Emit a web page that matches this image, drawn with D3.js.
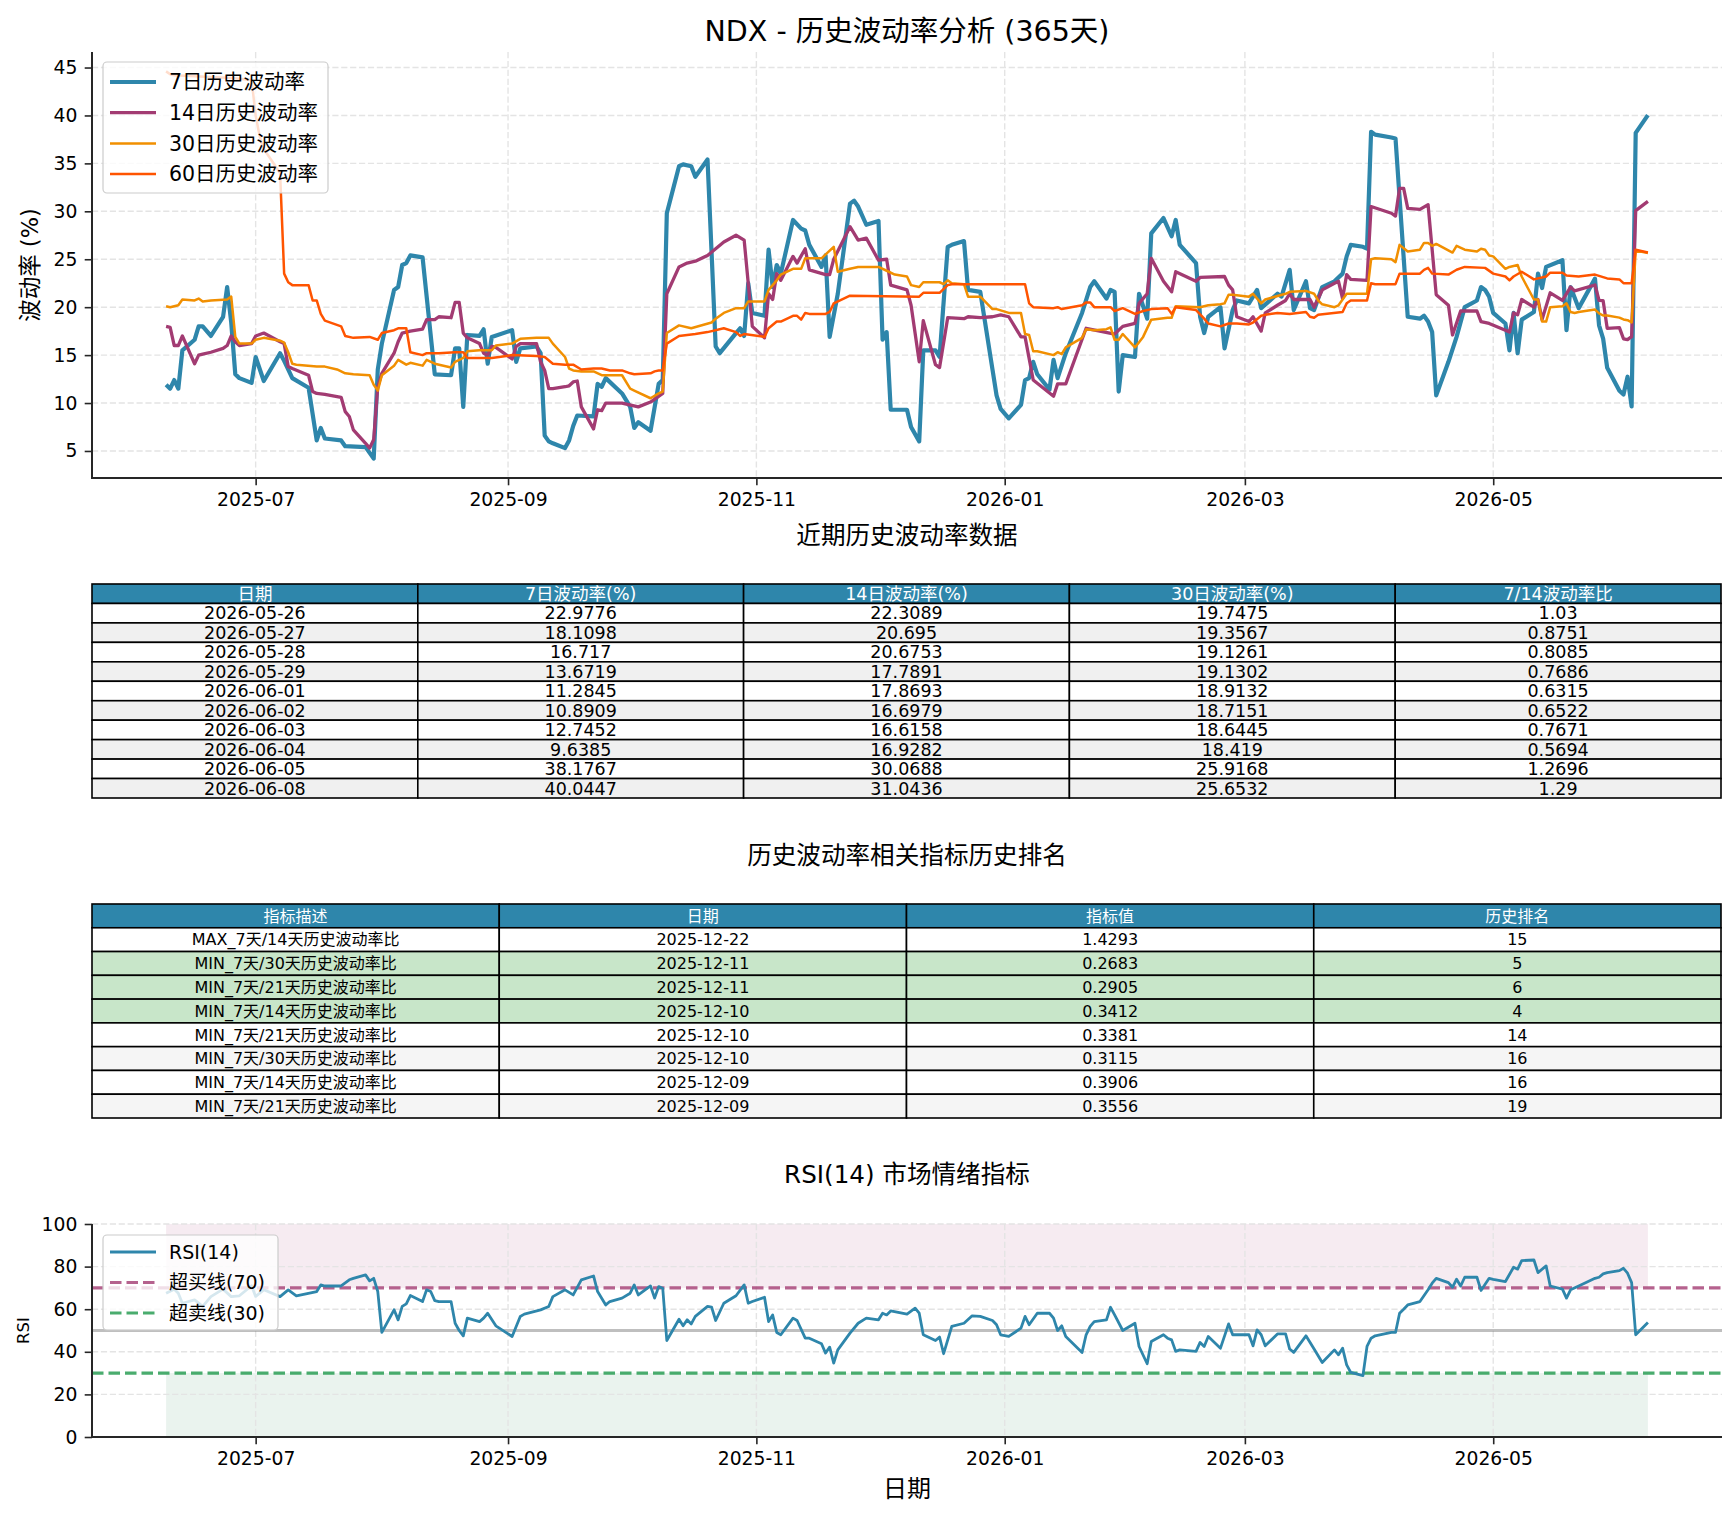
<!DOCTYPE html>
<html>
<head>
<meta charset="utf-8">
<script src="https://cdn.jsdelivr.net/npm/d3@7"></script>
<style>
  body { margin: 0; background: #fff; }
  text { font-family: "DejaVu Sans", "Noto Sans CJK SC", sans-serif; }
</style>
</head>
<body>
<svg id="chart"></svg>
<script>
// ---------------------------------------------------------------
// Data
// ---------------------------------------------------------------
var vol7 = [
  ['2025-06-09', 11.9], ['2025-06-10', 11.5], ['2025-06-11', 12.4], ['2025-06-12', 11.5], ['2025-06-13', 15.5],
  ['2025-06-16', 16.6], ['2025-06-17', 18.0], ['2025-06-18', 18.0], ['2025-06-20', 17.0], ['2025-06-23', 19.0],
  ['2025-06-24', 22.1], ['2025-06-25', 18.4], ['2025-06-26', 13.0], ['2025-06-27', 12.6], ['2025-06-30', 12.1],
  ['2025-07-01', 14.8], ['2025-07-03', 12.3], ['2025-07-07', 15.2], ['2025-07-08', 14.4], ['2025-07-10', 12.6],
  ['2025-07-14', 11.6], ['2025-07-16', 6.1], ['2025-07-17', 7.4], ['2025-07-18', 6.3], ['2025-07-22', 6.1],
  ['2025-07-23', 5.5], ['2025-07-28', 5.4], ['2025-07-29', 4.8], ['2025-07-30', 4.2], ['2025-07-31', 13.5],
  ['2025-08-01', 16.2], ['2025-08-04', 21.8], ['2025-08-05', 22.1], ['2025-08-06', 24.4], ['2025-08-07', 24.6],
  ['2025-08-08', 25.4], ['2025-08-11', 25.2], ['2025-08-14', 13.0], ['2025-08-18', 12.9], ['2025-08-19', 15.7],
  ['2025-08-20', 15.7], ['2025-08-21', 9.6], ['2025-08-22', 17.1], ['2025-08-25', 17.0], ['2025-08-26', 17.7],
  ['2025-08-27', 14.1], ['2025-08-28', 16.9], ['2025-09-02', 17.6], ['2025-09-03', 14.3], ['2025-09-04', 15.7],
  ['2025-09-08', 15.9], ['2025-09-09', 15.2], ['2025-09-10', 6.6], ['2025-09-11', 6.0], ['2025-09-12', 5.8],
  ['2025-09-15', 5.3], ['2025-09-16', 6.1], ['2025-09-17', 7.6], ['2025-09-18', 8.7], ['2025-09-22', 8.6],
  ['2025-09-23', 12.0], ['2025-09-24', 11.7], ['2025-09-25', 12.6], ['2025-09-29', 11.0], ['2025-10-01', 9.6],
  ['2025-10-02', 7.4], ['2025-10-03', 8.0], ['2025-10-06', 7.1], ['2025-10-08', 12.0], ['2025-10-09', 12.4],
  ['2025-10-10', 29.8], ['2025-10-13', 34.7], ['2025-10-14', 34.9], ['2025-10-16', 34.7], ['2025-10-17', 33.6],
  ['2025-10-20', 35.4], ['2025-10-22', 15.9], ['2025-10-23', 15.2], ['2025-10-27', 17.3], ['2025-10-28', 17.8],
  ['2025-10-29', 17.0], ['2025-10-30', 22.5], ['2025-10-31', 19.4], ['2025-11-03', 19.1], ['2025-11-04', 26.0],
  ['2025-11-05', 22.1], ['2025-11-06', 24.4], ['2025-11-07', 23.5], ['2025-11-10', 29.1], ['2025-11-12', 28.2],
  ['2025-11-13', 28.0], ['2025-11-14', 26.5], ['2025-11-17', 24.2], ['2025-11-18', 25.4], ['2025-11-19', 16.9],
  ['2025-11-21', 21.4], ['2025-11-24', 30.8], ['2025-11-25', 31.1], ['2025-11-26', 30.5], ['2025-11-28', 28.6],
  ['2025-12-01', 29.0], ['2025-12-02', 16.6], ['2025-12-03', 17.4], ['2025-12-04', 9.3], ['2025-12-08', 9.3],
  ['2025-12-09', 7.5], ['2025-12-11', 6.0], ['2025-12-12', 15.5], ['2025-12-15', 15.5], ['2025-12-16', 14.8],
  ['2025-12-18', 26.3], ['2025-12-19', 26.5], ['2025-12-22', 26.9], ['2025-12-23', 21.8], ['2025-12-26', 21.6],
  ['2025-12-29', 13.5], ['2025-12-30', 10.8], ['2025-12-31', 9.4], ['2026-01-02', 8.4], ['2026-01-05', 9.8],
  ['2026-01-06', 12.4], ['2026-01-07', 12.6], ['2026-01-08', 14.3], ['2026-01-09', 13.0], ['2026-01-12', 11.4],
  ['2026-01-13', 14.5], ['2026-01-14', 12.6], ['2026-01-16', 15.2], ['2026-01-20', 19.4], ['2026-01-22', 22.1],
  ['2026-01-23', 22.7], ['2026-01-26', 20.9], ['2026-01-27', 21.8], ['2026-01-28', 21.6], ['2026-01-29', 11.2],
  ['2026-01-30', 15.0], ['2026-02-02', 14.8], ['2026-02-03', 21.4], ['2026-02-05', 18.8], ['2026-02-06', 27.7],
  ['2026-02-09', 29.3], ['2026-02-11', 27.4], ['2026-02-12', 29.1], ['2026-02-13', 26.5], ['2026-02-17', 24.6],
  ['2026-02-18', 19.0], ['2026-02-19', 17.3], ['2026-02-20', 19.0], ['2026-02-23', 20.0], ['2026-02-24', 15.7],
  ['2026-02-26', 19.7], ['2026-02-27', 20.7], ['2026-03-02', 20.4], ['2026-03-04', 21.8], ['2026-03-05', 19.9],
  ['2026-03-09', 21.4], ['2026-03-10', 21.1], ['2026-03-12', 23.9], ['2026-03-13', 19.7], ['2026-03-16', 22.7],
  ['2026-03-17', 19.9], ['2026-03-18', 19.7], ['2026-03-20', 22.1], ['2026-03-23', 22.7], ['2026-03-25', 23.5],
  ['2026-03-26', 25.3], ['2026-03-27', 26.5], ['2026-03-30', 26.3], ['2026-03-31', 26.1], ['2026-04-01', 38.3],
  ['2026-04-02', 38.0], ['2026-04-06', 37.7], ['2026-04-07', 37.6], ['2026-04-10', 19.0], ['2026-04-13', 18.8],
  ['2026-04-14', 19.1], ['2026-04-15', 18.5], ['2026-04-16', 17.4], ['2026-04-17', 10.8], ['2026-04-20', 14.3],
  ['2026-04-22', 16.9], ['2026-04-24', 20.0], ['2026-04-27', 20.7], ['2026-04-28', 22.1], ['2026-04-29', 21.8],
  ['2026-04-30', 21.1], ['2026-05-01', 19.4], ['2026-05-04', 18.3], ['2026-05-05', 15.5], ['2026-05-06', 19.4],
  ['2026-05-07', 15.2], ['2026-05-08', 18.7], ['2026-05-11', 19.5], ['2026-05-12', 23.5], ['2026-05-13', 22.0],
  ['2026-05-14', 24.2], ['2026-05-18', 24.9], ['2026-05-19', 17.6], ['2026-05-20', 22.1], ['2026-05-22', 19.9],
  ['2026-05-26', 22.98], ['2026-05-27', 18.11], ['2026-05-28', 16.72], ['2026-05-29', 13.67], ['2026-06-01', 11.28],
  ['2026-06-02', 10.89], ['2026-06-03', 12.75], ['2026-06-04', 9.64], ['2026-06-05', 38.18], ['2026-06-08', 40.04]
]

var vol14 = [
  ['2025-06-09', 18.0], ['2025-06-10', 17.9], ['2025-06-11', 16.0], ['2025-06-12', 16.0], ['2025-06-13', 17.0],
  ['2025-06-16', 14.1], ['2025-06-17', 15.0], ['2025-06-18', 15.1], ['2025-06-20', 15.3], ['2025-06-23', 15.7],
  ['2025-06-24', 16.0], ['2025-06-25', 17.0], ['2025-06-26', 16.4], ['2025-06-27', 16.0], ['2025-06-30', 16.2],
  ['2025-07-01', 17.0], ['2025-07-03', 17.3], ['2025-07-07', 16.4], ['2025-07-08', 16.2], ['2025-07-09', 13.8],
  ['2025-07-10', 13.6], ['2025-07-14', 12.9], ['2025-07-15', 11.2], ['2025-07-16', 11.0], ['2025-07-18', 10.9],
  ['2025-07-22', 10.6], ['2025-07-23', 9.1], ['2025-07-24', 8.6], ['2025-07-25', 7.2], ['2025-07-28', 5.8],
  ['2025-07-29', 5.3], ['2025-07-30', 6.2], ['2025-07-31', 11.7], ['2025-08-01', 13.1], ['2025-08-04', 15.2],
  ['2025-08-05', 16.4], ['2025-08-06', 17.3], ['2025-08-07', 17.4], ['2025-08-08', 17.5], ['2025-08-11', 17.7],
  ['2025-08-12', 18.7], ['2025-08-14', 18.7], ['2025-08-15', 19.0], ['2025-08-18', 18.9], ['2025-08-19', 20.5],
  ['2025-08-20', 20.5], ['2025-08-21', 17.3], ['2025-08-22', 16.8], ['2025-08-25', 16.2], ['2025-08-26', 15.2],
  ['2025-08-27', 15.0], ['2025-08-28', 15.9], ['2025-08-29', 15.8], ['2025-09-02', 14.6], ['2025-09-03', 15.9],
  ['2025-09-04', 16.2], ['2025-09-08', 16.2], ['2025-09-09', 14.3], ['2025-09-10', 13.4], ['2025-09-11', 11.5],
  ['2025-09-12', 11.5], ['2025-09-15', 11.7], ['2025-09-16', 11.8], ['2025-09-17', 12.2], ['2025-09-18', 12.3],
  ['2025-09-19', 9.6], ['2025-09-22', 7.3], ['2025-09-23', 9.3], ['2025-09-24', 9.2], ['2025-09-25', 10.0],
  ['2025-09-29', 10.0], ['2025-10-03', 9.6], ['2025-10-06', 10.1], ['2025-10-09', 11.0], ['2025-10-10', 21.4],
  ['2025-10-13', 24.2], ['2025-10-15', 24.6], ['2025-10-17', 24.8], ['2025-10-20', 25.4], ['2025-10-22', 26.1],
  ['2025-10-24', 26.8], ['2025-10-27', 27.5], ['2025-10-29', 27.0], ['2025-10-31', 18.0], ['2025-11-03', 16.8],
  ['2025-11-04', 21.4], ['2025-11-05', 20.8], ['2025-11-06', 23.5], ['2025-11-07', 22.8], ['2025-11-10', 25.3],
  ['2025-11-11', 24.6], ['2025-11-13', 26.1], ['2025-11-14', 23.9], ['2025-11-18', 23.4], ['2025-11-19', 23.4],
  ['2025-11-20', 25.0], ['2025-11-24', 28.4], ['2025-11-26', 27.0], ['2025-11-28', 27.2], ['2025-12-01', 24.9],
  ['2025-12-03', 25.0], ['2025-12-04', 22.3], ['2025-12-08', 21.8], ['2025-12-09', 20.2], ['2025-12-11', 14.3],
  ['2025-12-12', 18.6], ['2025-12-15', 14.0], ['2025-12-16', 13.7], ['2025-12-18', 18.9], ['2025-12-22', 18.8],
  ['2025-12-23', 19.0], ['2025-12-26', 18.9], ['2025-12-29', 19.0], ['2025-12-31', 19.2], ['2026-01-02', 19.0],
  ['2026-01-05', 16.9], ['2026-01-06', 16.9], ['2026-01-08', 12.4], ['2026-01-13', 10.7], ['2026-01-14', 12.0],
  ['2026-01-16', 12.0], ['2026-01-21', 17.8], ['2026-01-28', 17.2], ['2026-01-30', 18.0], ['2026-02-02', 18.3],
  ['2026-02-03', 20.4], ['2026-02-05', 21.4], ['2026-02-06', 25.1], ['2026-02-09', 22.7], ['2026-02-11', 21.6],
  ['2026-02-12', 23.7], ['2026-02-17', 22.7], ['2026-02-18', 23.1], ['2026-02-24', 23.2], ['2026-02-25', 22.3],
  ['2026-02-26', 21.8], ['2026-02-27', 19.0], ['2026-03-02', 18.5], ['2026-03-03', 19.0], ['2026-03-05', 17.5],
  ['2026-03-06', 19.4], ['2026-03-09', 20.2], ['2026-03-11', 20.7], ['2026-03-12', 21.4], ['2026-03-13', 20.8],
  ['2026-03-17', 20.8], ['2026-03-18', 20.0], ['2026-03-20', 21.8], ['2026-03-23', 22.5], ['2026-03-24', 22.7],
  ['2026-03-25', 20.9], ['2026-03-26', 23.4], ['2026-03-27', 22.9], ['2026-03-31', 22.8], ['2026-04-01', 30.5],
  ['2026-04-06', 29.8], ['2026-04-07', 29.5], ['2026-04-08', 32.4], ['2026-04-09', 32.4], ['2026-04-10', 30.3],
  ['2026-04-13', 30.2], ['2026-04-15', 30.7], ['2026-04-17', 21.3], ['2026-04-20', 20.2], ['2026-04-21', 17.1],
  ['2026-04-23', 19.6], ['2026-04-27', 19.6], ['2026-04-28', 18.5], ['2026-04-30', 18.3], ['2026-05-04', 17.6],
  ['2026-05-05', 17.4], ['2026-05-06', 19.4], ['2026-05-07', 19.2], ['2026-05-08', 20.8], ['2026-05-11', 20.0],
  ['2026-05-12', 20.8], ['2026-05-13', 18.7], ['2026-05-15', 21.5], ['2026-05-18', 20.7], ['2026-05-20', 22.1],
  ['2026-05-21', 21.7], ['2026-05-26', 22.31], ['2026-05-27', 20.70], ['2026-05-28', 20.68], ['2026-05-29', 17.79],
  ['2026-06-01', 17.87], ['2026-06-02', 16.70], ['2026-06-03', 16.62], ['2026-06-04', 16.93], ['2026-06-05', 30.07],
  ['2026-06-08', 31.04]
]

var vol30 = [
  ['2025-06-09', 20.1], ['2025-06-10', 20.0], ['2025-06-12', 20.2], ['2025-06-13', 20.8], ['2025-06-16', 20.7],
  ['2025-06-17', 20.9], ['2025-06-18', 20.6], ['2025-06-20', 20.7], ['2025-06-24', 20.8], ['2025-06-25', 21.1],
  ['2025-06-26', 16.9], ['2025-06-27', 16.2], ['2025-06-30', 16.2], ['2025-07-01', 16.6], ['2025-07-03', 16.8],
  ['2025-07-07', 16.5], ['2025-07-08', 16.3], ['2025-07-09', 15.3], ['2025-07-10', 14.1], ['2025-07-11', 14.0],
  ['2025-07-16', 13.8], ['2025-07-18', 13.8], ['2025-07-21', 13.5], ['2025-07-23', 13.1], ['2025-07-25', 13.0],
  ['2025-07-29', 12.9], ['2025-07-30', 11.9], ['2025-07-31', 11.3], ['2025-08-01', 12.9], ['2025-08-04', 13.9],
  ['2025-08-05', 14.5], ['2025-08-07', 14.0], ['2025-08-08', 14.2], ['2025-08-11', 13.9], ['2025-08-12', 14.5],
  ['2025-08-14', 14.1], ['2025-08-18', 13.7], ['2025-08-19', 14.3], ['2025-08-21', 14.7], ['2025-08-22', 15.4],
  ['2025-08-25', 15.5], ['2025-08-28', 15.5], ['2025-08-29', 16.0], ['2025-09-02', 16.2], ['2025-09-04', 16.7],
  ['2025-09-08', 16.8], ['2025-09-11', 16.8], ['2025-09-12', 16.2], ['2025-09-15', 14.8], ['2025-09-16', 13.6],
  ['2025-09-17', 13.4], ['2025-09-19', 13.3], ['2025-09-22', 13.3], ['2025-09-24', 12.9], ['2025-09-29', 12.9],
  ['2025-10-01', 11.5], ['2025-10-02', 11.3], ['2025-10-06', 10.5], ['2025-10-08', 11.0], ['2025-10-09', 11.2],
  ['2025-10-10', 17.3], ['2025-10-13', 18.1], ['2025-10-16', 17.8], ['2025-10-21', 18.4], ['2025-10-22', 18.8],
  ['2025-10-24', 19.4], ['2025-10-27', 19.9], ['2025-10-29', 19.9], ['2025-10-30', 20.6], ['2025-11-03', 20.6],
  ['2025-11-04', 21.8], ['2025-11-06', 22.8], ['2025-11-07', 23.4], ['2025-11-10', 24.0], ['2025-11-12', 24.0],
  ['2025-11-13', 25.1], ['2025-11-17', 25.1], ['2025-11-20', 26.3], ['2025-11-21', 23.7], ['2025-11-24', 24.0],
  ['2025-11-26', 24.2], ['2025-12-01', 24.2], ['2025-12-03', 23.8], ['2025-12-05', 23.4], ['2025-12-08', 23.2],
  ['2025-12-09', 22.3], ['2025-12-11', 22.1], ['2025-12-12', 22.6], ['2025-12-16', 22.6], ['2025-12-17', 22.4],
  ['2025-12-18', 22.8], ['2025-12-19', 22.5], ['2025-12-22', 22.4], ['2025-12-23', 21.1], ['2025-12-26', 21.1],
  ['2025-12-29', 19.8], ['2025-12-30', 19.8], ['2026-01-02', 19.4], ['2026-01-05', 19.4], ['2026-01-06', 17.2],
  ['2026-01-07', 17.1], ['2026-01-08', 15.4], ['2026-01-09', 15.4], ['2026-01-13', 15.0], ['2026-01-14', 15.3],
  ['2026-01-15', 15.1], ['2026-01-16', 15.8], ['2026-01-20', 16.8], ['2026-01-21', 17.7], ['2026-01-23', 17.6],
  ['2026-01-26', 17.7], ['2026-01-27', 17.9], ['2026-01-28', 16.6], ['2026-01-29', 16.6], ['2026-01-30', 17.2],
  ['2026-02-02', 15.8], ['2026-02-04', 16.9], ['2026-02-06', 18.7], ['2026-02-10', 18.9], ['2026-02-11', 18.9],
  ['2026-02-12', 20.1], ['2026-02-18', 20.0], ['2026-02-20', 20.2], ['2026-02-23', 20.3], ['2026-02-24', 20.4],
  ['2026-02-25', 21.3], ['2026-02-26', 21.3], ['2026-03-02', 21.1], ['2026-03-03', 21.4], ['2026-03-05', 20.4],
  ['2026-03-06', 20.8], ['2026-03-11', 21.4], ['2026-03-12', 21.6], ['2026-03-16', 21.7], ['2026-03-18', 21.4],
  ['2026-03-19', 20.7], ['2026-03-20', 20.3], ['2026-03-23', 20.0], ['2026-03-24', 20.2], ['2026-03-26', 21.4],
  ['2026-03-27', 21.4], ['2026-03-31', 21.4], ['2026-04-01', 25.0], ['2026-04-02', 25.1], ['2026-04-06', 25.0],
  ['2026-04-07', 24.7], ['2026-04-08', 26.5], ['2026-04-10', 25.8], ['2026-04-13', 26.0], ['2026-04-14', 26.7],
  ['2026-04-15', 26.7], ['2026-04-16', 26.4], ['2026-04-17', 26.6], ['2026-04-21', 25.7], ['2026-04-22', 26.4],
  ['2026-04-24', 26.0], ['2026-04-27', 25.8], ['2026-04-28', 26.1], ['2026-04-29', 26.0], ['2026-04-30', 25.4],
  ['2026-05-01', 25.3], ['2026-05-04', 24.0], ['2026-05-05', 24.2], ['2026-05-07', 24.4], ['2026-05-08', 23.2],
  ['2026-05-11', 20.8], ['2026-05-12', 20.8], ['2026-05-13', 18.5], ['2026-05-14', 18.5], ['2026-05-15', 20.0],
  ['2026-05-18', 20.1], ['2026-05-19', 20.4], ['2026-05-20', 19.5], ['2026-05-21', 19.4], ['2026-05-22', 19.5],
  ['2026-05-26', 19.75], ['2026-05-27', 19.36], ['2026-05-28', 19.13], ['2026-05-29', 19.13], ['2026-06-01', 18.91],
  ['2026-06-02', 18.72], ['2026-06-03', 18.64], ['2026-06-04', 18.42], ['2026-06-05', 25.92], ['2026-06-08', 25.65]
]

var vol60 = [
  ['2025-06-09', 44.6], ['2025-06-10', 44.3], ['2025-06-11', 44.2], ['2025-06-16', 44.1], ['2025-06-20', 44.0],
  ['2025-06-25', 43.9], ['2025-06-30', 43.7], ['2025-07-01', 40.0], ['2025-07-02', 37.8], ['2025-07-03', 36.5],
  ['2025-07-07', 34.0], ['2025-07-08', 23.5], ['2025-07-09', 22.6], ['2025-07-10', 22.3], ['2025-07-14', 22.3],
  ['2025-07-15', 20.7], ['2025-07-16', 20.7], ['2025-07-17', 19.3], ['2025-07-18', 18.6], ['2025-07-22', 18.0],
  ['2025-07-23', 17.0], ['2025-07-25', 16.8], ['2025-07-29', 16.9], ['2025-07-31', 16.6], ['2025-08-01', 17.3],
  ['2025-08-04', 17.6], ['2025-08-05', 17.8], ['2025-08-07', 17.8], ['2025-08-08', 15.3], ['2025-08-11', 15.0],
  ['2025-08-12', 15.2], ['2025-08-15', 15.2], ['2025-08-19', 15.3], ['2025-08-21', 15.3], ['2025-08-22', 14.7],
  ['2025-08-28', 14.7], ['2025-09-02', 15.0], ['2025-09-08', 14.9], ['2025-09-10', 14.8], ['2025-09-12', 14.1],
  ['2025-09-15', 14.0], ['2025-09-17', 14.0], ['2025-09-19', 13.5], ['2025-09-22', 13.6], ['2025-09-24', 13.6],
  ['2025-09-26', 13.4], ['2025-09-29', 13.4], ['2025-10-01', 13.1], ['2025-10-02', 13.0], ['2025-10-06', 13.1],
  ['2025-10-07', 13.3], ['2025-10-08', 13.4], ['2025-10-09', 13.4], ['2025-10-10', 16.2], ['2025-10-13', 17.0],
  ['2025-10-17', 17.2], ['2025-10-20', 17.4], ['2025-10-24', 17.8], ['2025-10-27', 17.4], ['2025-10-28', 17.0],
  ['2025-10-29', 17.2], ['2025-11-03', 16.9], ['2025-11-04', 17.8], ['2025-11-06', 18.5], ['2025-11-07', 18.5],
  ['2025-11-10', 19.1], ['2025-11-11', 19.1], ['2025-11-12', 18.7], ['2025-11-13', 19.4], ['2025-11-14', 19.3],
  ['2025-11-18', 19.3], ['2025-11-19', 19.5], ['2025-11-20', 20.4], ['2025-11-24', 21.2], ['2025-12-11', 21.1],
  ['2025-12-12', 21.5], ['2025-12-16', 21.5], ['2025-12-18', 22.3], ['2025-12-19', 22.4], ['2026-01-06', 22.4],
  ['2026-01-07', 20.4], ['2026-01-08', 20.0], ['2026-01-13', 19.9], ['2026-01-14', 20.0], ['2026-01-15', 19.8],
  ['2026-01-20', 20.2], ['2026-01-21', 20.5], ['2026-01-22', 20.5], ['2026-01-23', 20.0], ['2026-01-27', 20.0],
  ['2026-01-28', 19.6], ['2026-01-30', 19.9], ['2026-02-02', 19.3], ['2026-02-04', 19.6], ['2026-02-06', 19.8],
  ['2026-02-10', 19.9], ['2026-02-11', 19.3], ['2026-02-12', 20.0], ['2026-02-17', 19.7], ['2026-02-19', 18.8],
  ['2026-02-20', 18.3], ['2026-02-23', 18.0], ['2026-02-25', 18.3], ['2026-02-27', 18.3], ['2026-03-02', 18.2],
  ['2026-03-03', 18.4], ['2026-03-05', 19.1], ['2026-03-06', 19.2], ['2026-03-09', 19.4], ['2026-03-12', 19.3],
  ['2026-03-16', 19.5], ['2026-03-17', 19.0], ['2026-03-18', 18.9], ['2026-03-19', 19.2], ['2026-03-25', 19.5],
  ['2026-03-26', 20.4], ['2026-03-27', 20.7], ['2026-03-31', 20.7], ['2026-04-01', 22.5], ['2026-04-02', 22.4],
  ['2026-04-07', 22.4], ['2026-04-08', 23.5], ['2026-04-13', 23.5], ['2026-04-14', 23.9], ['2026-04-15', 24.1],
  ['2026-04-16', 23.5], ['2026-04-20', 23.4], ['2026-04-22', 23.9], ['2026-04-24', 24.2], ['2026-04-29', 24.1],
  ['2026-05-01', 23.5], ['2026-05-04', 23.2], ['2026-05-05', 22.8], ['2026-05-06', 23.2], ['2026-05-08', 23.7],
  ['2026-05-11', 22.9], ['2026-05-14', 23.2], ['2026-05-15', 23.6], ['2026-05-18', 23.6], ['2026-05-19', 23.3],
  ['2026-05-22', 23.2], ['2026-05-26', 23.4], ['2026-05-29', 23.0], ['2026-06-01', 22.9], ['2026-06-02', 22.5],
  ['2026-06-04', 22.5], ['2026-06-05', 26.0], ['2026-06-08', 25.7]
]

var rsi14 = [
  ['2025-06-09', 67.5], ['2025-06-11', 69.4], ['2025-06-12', 67.5], ['2025-06-13', 62.8], ['2025-06-16', 64.4],
  ['2025-06-18', 61.3], ['2025-06-20', 65.9], ['2025-06-23', 69.4], ['2025-06-25', 65.9], ['2025-06-27', 66.3],
  ['2025-06-30', 71.0], ['2025-07-01', 66.0], ['2025-07-03', 69.1], ['2025-07-07', 65.9], ['2025-07-09', 69.1],
  ['2025-07-11', 66.3], ['2025-07-16', 68.3], ['2025-07-17', 71.4], ['2025-07-18', 70.9], ['2025-07-22', 70.9],
  ['2025-07-24', 73.8], ['2025-07-25', 74.5], ['2025-07-28', 76.1], ['2025-07-29', 73.3], ['2025-07-30', 74.5],
  ['2025-07-31', 68.3], ['2025-08-01', 49.1], ['2025-08-04', 59.7], ['2025-08-05', 55.0], ['2025-08-06', 61.3],
  ['2025-08-07', 62.5], ['2025-08-08', 66.4], ['2025-08-11', 63.6], ['2025-08-12', 69.1], ['2025-08-13', 68.3],
  ['2025-08-14', 64.0], ['2025-08-15', 63.6], ['2025-08-18', 63.6], ['2025-08-19', 53.4], ['2025-08-20', 50.0],
  ['2025-08-21', 47.5], ['2025-08-22', 55.8], ['2025-08-25', 54.2], ['2025-08-26', 55.8], ['2025-08-27', 58.1],
  ['2025-08-29', 52.2], ['2025-09-02', 47.2], ['2025-09-04', 56.6], ['2025-09-05', 57.7], ['2025-09-09', 59.7],
  ['2025-09-11', 61.3], ['2025-09-12', 65.9], ['2025-09-15', 69.1], ['2025-09-17', 66.7], ['2025-09-19', 73.8],
  ['2025-09-22', 75.6], ['2025-09-23', 68.3], ['2025-09-25', 62.0], ['2025-09-26', 63.6], ['2025-09-29', 65.2],
  ['2025-10-01', 67.5], ['2025-10-02', 71.4], ['2025-10-03', 66.7], ['2025-10-06', 70.9], ['2025-10-07', 65.2],
  ['2025-10-08', 70.6], ['2025-10-09', 69.8], ['2025-10-10', 45.3], ['2025-10-13', 55.3], ['2025-10-14', 52.2],
  ['2025-10-15', 55.0], ['2025-10-16', 53.1], ['2025-10-17', 56.6], ['2025-10-20', 61.3], ['2025-10-21', 61.0],
  ['2025-10-22', 54.7], ['2025-10-24', 62.8], ['2025-10-27', 66.3], ['2025-10-29', 71.4], ['2025-10-30', 62.8],
  ['2025-10-31', 63.6], ['2025-11-03', 65.6], ['2025-11-04', 54.2], ['2025-11-05', 57.3], ['2025-11-06', 49.1],
  ['2025-11-07', 48.0], ['2025-11-10', 55.8], ['2025-11-11', 54.7], ['2025-11-13', 46.4], ['2025-11-14', 46.4],
  ['2025-11-17', 43.8], ['2025-11-18', 39.4], ['2025-11-19', 42.2], ['2025-11-20', 34.7], ['2025-11-21', 40.9],
  ['2025-11-24', 48.8], ['2025-11-26', 53.4], ['2025-11-28', 55.8], ['2025-12-01', 55.0], ['2025-12-02', 58.1],
  ['2025-12-03', 57.3], ['2025-12-04', 59.2], ['2025-12-08', 57.7], ['2025-12-10', 60.5], ['2025-12-11', 58.1],
  ['2025-12-12', 48.0], ['2025-12-15', 45.3], ['2025-12-16', 46.9], ['2025-12-17', 39.1], ['2025-12-19', 51.9],
  ['2025-12-22', 53.4], ['2025-12-24', 56.9], ['2025-12-26', 56.6], ['2025-12-29', 54.7], ['2025-12-30', 52.7],
  ['2025-12-31', 48.0], ['2026-01-02', 47.2], ['2026-01-05', 51.1], ['2026-01-06', 56.6], ['2026-01-07', 52.7],
  ['2026-01-09', 58.1], ['2026-01-12', 58.1], ['2026-01-13', 55.8], ['2026-01-14', 50.0], ['2026-01-15', 52.2],
  ['2026-01-16', 47.2], ['2026-01-20', 39.7], ['2026-01-21', 48.0], ['2026-01-22', 51.9], ['2026-01-23', 54.2],
  ['2026-01-26', 55.0], ['2026-01-27', 60.9], ['2026-01-28', 57.3], ['2026-01-30', 50.0], ['2026-02-02', 53.4],
  ['2026-02-03', 42.5], ['2026-02-05', 34.4], ['2026-02-06', 44.8], ['2026-02-09', 48.0], ['2026-02-10', 46.4],
  ['2026-02-11', 45.6], ['2026-02-12', 40.2], ['2026-02-13', 40.9], ['2026-02-17', 40.2], ['2026-02-18', 44.4],
  ['2026-02-19', 42.5], ['2026-02-20', 47.2], ['2026-02-23', 41.7], ['2026-02-25', 53.1], ['2026-02-26', 48.0],
  ['2026-03-02', 48.0], ['2026-03-03', 42.8], ['2026-03-04', 50.3], ['2026-03-05', 48.0], ['2026-03-06', 42.8],
  ['2026-03-09', 48.4], ['2026-03-11', 48.4], ['2026-03-12', 41.3], ['2026-03-13', 39.7], ['2026-03-16', 47.5],
  ['2026-03-18', 41.3], ['2026-03-20', 35.0], ['2026-03-23', 40.9], ['2026-03-24', 38.6], ['2026-03-25', 41.7],
  ['2026-03-26', 33.9], ['2026-03-27', 30.3], ['2026-03-30', 28.8], ['2026-03-31', 42.5], ['2026-04-01', 46.4],
  ['2026-04-02', 47.5], ['2026-04-06', 49.1], ['2026-04-07', 49.1], ['2026-04-08', 58.1], ['2026-04-09', 60.0],
  ['2026-04-10', 62.0], ['2026-04-13', 63.6], ['2026-04-15', 69.1], ['2026-04-16', 72.2], ['2026-04-17', 74.5],
  ['2026-04-20', 72.5], ['2026-04-21', 70.3], ['2026-04-22', 74.1], ['2026-04-23', 70.9], ['2026-04-24', 75.0],
  ['2026-04-27', 75.0], ['2026-04-28', 68.8], ['2026-04-30', 74.5], ['2026-05-01', 74.0], ['2026-05-04', 73.0],
  ['2026-05-06', 79.7], ['2026-05-07', 78.8], ['2026-05-08', 82.8], ['2026-05-11', 83.1], ['2026-05-12', 77.2],
  ['2026-05-14', 80.3], ['2026-05-15', 70.9], ['2026-05-18', 69.4], ['2026-05-19', 65.2], ['2026-05-20', 69.1],
  ['2026-05-22', 70.9], ['2026-05-26', 74.5], ['2026-05-27', 75.0], ['2026-05-28', 76.6], ['2026-05-29', 77.2],
  ['2026-06-01', 78.1], ['2026-06-02', 79.2], ['2026-06-03', 76.9], ['2026-06-04', 72.5], ['2026-06-05', 48.0],
  ['2026-06-08', 53.8]
]

// tick labels
var monthTicks = ['2025-07-01', '2025-09-01', '2025-11-01', '2026-01-01', '2026-03-01', '2026-05-01']
var volTicks = [5, 10, 15, 20, 25, 30, 35, 40, 45]
var rsiTicks = [0, 20, 40, 60, 80, 100]

// table 1: recent volatility
var recentHeader = ['日期', '7日波动率(%)', '14日波动率(%)', '30日波动率(%)', '7/14波动率比']
var recentDates = ['2026-05-26', '2026-05-27', '2026-05-28', '2026-05-29', '2026-06-01',
  '2026-06-02', '2026-06-03', '2026-06-04', '2026-06-05', '2026-06-08']
var recent7 = [22.9776, 18.1098, 16.717, 13.6719, 11.2845, 10.8909, 12.7452, 9.6385, 38.1767, 40.0447]
var recent14 = [22.3089, 20.695, 20.6753, 17.7891, 17.8693, 16.6979, 16.6158, 16.9282, 30.0688, 31.0436]
var recent30 = [19.7475, 19.3567, 19.1261, 19.1302, 18.9132, 18.7151, 18.6445, 18.419, 25.9168, 25.6532]
var recentRatio = [1.03, 0.8751, 0.8085, 0.7686, 0.6315, 0.6522, 0.7671, 0.5694, 1.2696, 1.29]

// table 2: ranking
var rankHeader = ['指标描述', '日期', '指标值', '历史排名']
var rankNames = ['MAX_7天/14天历史波动率比', 'MIN_7天/30天历史波动率比', 'MIN_7天/21天历史波动率比',
  'MIN_7天/14天历史波动率比', 'MIN_7天/21天历史波动率比', 'MIN_7天/30天历史波动率比',
  'MIN_7天/14天历史波动率比', 'MIN_7天/21天历史波动率比']
var rankDates = ['2025-12-22', '2025-12-11', '2025-12-11', '2025-12-10', '2025-12-10', '2025-12-10', '2025-12-09', '2025-12-09']
var rankValues = [1.4293, 0.2683, 0.2905, 0.3412, 0.3381, 0.3115, 0.3906, 0.3556]
var rankPositions = [15, 5, 6, 4, 14, 16, 16, 19]

// ---------------------------------------------------------------
// Setup
// ---------------------------------------------------------------
var W = 1734
var H = 1516
var FONT = '"DejaVu Sans", "Noto Sans CJK SC", sans-serif'
var parse = d3.timeParse('%Y-%m-%d')

var MAIN = { left: 92, right: 1722, top: 52, bottom: 478 }
var RSIBOX = { left: 92, right: 1722, top: 1224, bottom: 1437 }
var TABLE_LEFT = 92
var TABLE_RIGHT = 1721

var svg = d3.select('#chart').attr('width', W).attr('height', H)
svg.append('rect').attr('width', W).attr('height', H).attr('fill', '#fff')

function points (arr) {
  return arr.map(function (d) { return { date: parse(d[0]), value: d[1] } })
}

var series = [
  { name: '7日历史波动率', data: points(vol7), color: '#2E86AB', width: 4.2 },
  { name: '14日历史波动率', data: points(vol14), color: '#A23B72', width: 3.3 },
  { name: '30日历史波动率', data: points(vol30), color: '#F18F01', width: 2.5 },
  { name: '60日历史波动率', data: points(vol60), color: '#FF5400', width: 2.5 }
]
var rsiPoints = points(rsi14)

// x: data span padded 5% on each side (matplotlib autoscale)
var t0 = d3.min(series[0].data, function (d) { return d.date })
var t1 = d3.max(series[0].data, function (d) { return d.date })
var tPad = (t1 - t0) * 0.05
var xMain = d3.scaleTime().domain([new Date(+t0 - tPad), new Date(+t1 + tPad)]).range([MAIN.left, MAIN.right])
var xRsi = xMain.copy().range([RSIBOX.left, RSIBOX.right])

var allVals = [].concat(vol7, vol14, vol30, vol60).map(function (d) { return d[1] })
var vMin = d3.min(allVals)
var vMax = d3.max(allVals)
var vPad = (vMax - vMin) * 0.05
var yMain = d3.scaleLinear().domain([vMin - vPad, vMax + vPad]).range([MAIN.bottom, MAIN.top])
var yRsi = d3.scaleLinear().domain([0, 100]).range([RSIBOX.bottom, RSIBOX.top])

var monthDates = monthTicks.map(parse)

//
// Helpers
//
function drawGrid (box, x, y, xTicks, yTicks) {
  var g = svg.append('g').attr('stroke', '#e4e4e4').attr('stroke-width', 1.4).attr('stroke-dasharray', '6.2,2.7')
  g.selectAll('line.gx').data(xTicks).enter().append('line')
    .attr('x1', x).attr('x2', x).attr('y1', box.top).attr('y2', box.bottom)
  g.selectAll('line.gy').data(yTicks).enter().append('line')
    .attr('y1', y).attr('y2', y).attr('x1', box.left).attr('x2', box.right)
}

function styleAxis (g) {
  g.attr('font-family', FONT).attr('font-size', 18.75)
  g.select('.domain').remove()
  g.selectAll('.tick line').attr('stroke', '#262626').attr('stroke-width', 1.6)
  g.selectAll('.tick text').attr('fill', '#000')
}

function drawAxes (box, x, y, yTicks) {
  svg.append('g')
    .attr('transform', 'translate(0,' + box.bottom + ')')
    .call(d3.axisBottom(x).tickValues(monthDates).tickFormat(d3.timeFormat('%Y-%m'))
      .tickSize(7.3).tickPadding(7.3).tickSizeOuter(0))
    .call(styleAxis)
  svg.append('g')
    .attr('transform', 'translate(' + box.left + ',0)')
    .call(d3.axisLeft(y).tickValues(yTicks).tickSize(7.3).tickPadding(7.3).tickSizeOuter(0))
    .call(styleAxis)
  // left and bottom spines only
  svg.append('line').attr('x1', box.left).attr('x2', box.left).attr('y1', box.top).attr('y2', box.bottom + 1)
    .attr('stroke', '#262626').attr('stroke-width', 2)
  svg.append('line').attr('x1', box.left - 1).attr('x2', box.right).attr('y1', box.bottom).attr('y2', box.bottom)
    .attr('stroke', '#262626').attr('stroke-width', 2)
}

function label (txt, x, y, size, opts) {
  opts = opts || {}
  var t = svg.append('text').text(txt)
    .attr('x', x).attr('y', y)
    .attr('font-size', size)
    .attr('font-family', opts.family || FONT)
    .attr('text-anchor', opts.anchor || 'middle')
    .attr('fill', opts.fill || '#000')
  if (opts.rotate) t.attr('transform', 'rotate(-90,' + x + ',' + y + ')')
  return t
}

function drawLegend (box, items, fontSize) {
  var g = svg.append('g')
  g.append('rect')
    .attr('x', box.x).attr('y', box.y).attr('width', box.w).attr('height', box.h)
    .attr('rx', 4).attr('ry', 4)
    .attr('fill', '#fff').attr('fill-opacity', 0.8)
    .attr('stroke', '#cccccc').attr('stroke-width', 1.2)
  items.forEach(function (it, i) {
    var cy = box.first + i * box.step
    g.append('line')
      .attr('x1', box.x + 7).attr('x2', box.x + 53).attr('y1', cy).attr('y2', cy)
      .attr('stroke', it.color).attr('stroke-width', it.width)
      .attr('stroke-dasharray', it.dash || null)
      .attr('stroke-opacity', it.opacity || 1)
    g.append('text').text(it.name)
      .attr('x', box.x + 66).attr('y', cy + fontSize * 0.36)
      .attr('font-size', fontSize).attr('font-family', FONT).attr('fill', '#000')
  })
}

// ---------------------------------------------------------------
// Main volatility chart
// ---------------------------------------------------------------
drawGrid(MAIN, xMain, yMain, monthDates, volTicks)

var volLine = d3.line()
  .x(function (d) { return xMain(d.date) })
  .y(function (d) { return yMain(d.value) })

svg.append('g').selectAll('path').data(series).enter().append('path')
  .attr('d', function (s) { return volLine(s.data) })
  .attr('fill', 'none')
  .attr('stroke', function (s) { return s.color })
  .attr('stroke-width', function (s) { return s.width })
  .attr('stroke-linejoin', 'round')

drawAxes(MAIN, xMain, yMain, volTicks)

label('NDX - 历史波动率分析 (365天)', (MAIN.left + MAIN.right) / 2, 41, 28.5)
label('波动率 (%)', 38, (MAIN.top + MAIN.bottom) / 2, 22.5, { rotate: true })

drawLegend({ x: 103, y: 62, w: 225, h: 131, first: 82, step: 30.7 }, series, 20.5)

// ---------------------------------------------------------------
// Tables
// ---------------------------------------------------------------
function drawTable (top, bottom, header, rows, fills, fontSize) {
  var col = d3.scaleBand().domain(d3.range(header.length)).range([TABLE_LEFT, TABLE_RIGHT])
  var row = d3.scaleBand().domain(d3.range(rows.length + 1)).range([top, bottom])
  var g = svg.append('g')
  var all = [header].concat(rows)
  all.forEach(function (cells, r) {
    cells.forEach(function (txt, c) {
      g.append('rect')
        .attr('x', col(c)).attr('y', row(r))
        .attr('width', col.bandwidth()).attr('height', row.bandwidth())
        .attr('fill', r === 0 ? '#2E86AB' : fills[r - 1])
        .attr('stroke', '#000').attr('stroke-width', 1.6)
      g.append('text').text(txt)
        .attr('x', col(c) + col.bandwidth() / 2)
        .attr('y', row(r) + row.bandwidth() / 2 + fontSize * 0.36)
        .attr('text-anchor', 'middle')
        .attr('font-size', fontSize).attr('font-family', FONT)
        .attr('fill', r === 0 ? '#fff' : '#000')
    })
  })
}

label('近期历史波动率数据', 907, 544, 24.6)
var recentRows = recentDates.map(function (d, i) {
  return [d, String(recent7[i]), String(recent14[i]), String(recent30[i]), String(recentRatio[i])]
})
var recentFills = recentDates.map(function (d, i) { return i % 2 === 0 ? '#ffffff' : '#f0f0f0' })
drawTable(584, 798, recentHeader, recentRows, recentFills, 17.5)

label('历史波动率相关指标历史排名', 907, 864, 24.6)
var rankRows = rankNames.map(function (n, i) {
  return [n, rankDates[i], String(rankValues[i]), String(rankPositions[i])]
})
var rankFills = rankPositions.map(function (p, i) {
  if (p <= 10) return '#c8e6c9'
  return i % 2 === 0 ? '#ffffff' : '#f5f5f5'
})
drawTable(904, 1118, rankHeader, rankRows, rankFills, 16)

// ---------------------------------------------------------------
// RSI chart
// ---------------------------------------------------------------
label('RSI(14) 市场情绪指标', 907, 1183, 24.6)

var r0 = rsiPoints[0].date
var r1 = rsiPoints[rsiPoints.length - 1].date
svg.append('rect')
  .attr('x', xRsi(r0)).attr('width', xRsi(r1) - xRsi(r0))
  .attr('y', yRsi(100)).attr('height', yRsi(70) - yRsi(100))
  .attr('fill', '#A23B72').attr('fill-opacity', 0.1)
svg.append('rect')
  .attr('x', xRsi(r0)).attr('width', xRsi(r1) - xRsi(r0))
  .attr('y', yRsi(30)).attr('height', yRsi(0) - yRsi(30))
  .attr('fill', '#2E8B57').attr('fill-opacity', 0.1)

drawGrid(RSIBOX, xRsi, yRsi, monthDates, rsiTicks)

var refLines = [
  { value: 50, color: '#808080', opacity: 0.5, dash: null, width: 3 },
  { value: 70, color: '#A23B72', opacity: 0.8, dash: '11.5,5', width: 3.1 },
  { value: 30, color: '#2A9D55', opacity: 0.85, dash: '11.5,5', width: 3.1 }
]
svg.append('g').selectAll('line').data(refLines).enter().append('line')
  .attr('x1', RSIBOX.left).attr('x2', RSIBOX.right)
  .attr('y1', function (d) { return yRsi(d.value) })
  .attr('y2', function (d) { return yRsi(d.value) })
  .attr('stroke', function (d) { return d.color })
  .attr('stroke-opacity', function (d) { return d.opacity })
  .attr('stroke-width', function (d) { return d.width })
  .attr('stroke-dasharray', function (d) { return d.dash })

var rsiLine = d3.line()
  .x(function (d) { return xRsi(d.date) })
  .y(function (d) { return yRsi(d.value) })
svg.append('path').datum(rsiPoints)
  .attr('d', rsiLine)
  .attr('fill', 'none').attr('stroke', '#2E86AB').attr('stroke-width', 2.8)
  .attr('stroke-linejoin', 'round')

drawAxes(RSIBOX, xRsi, yRsi, rsiTicks)

label('RSI', 29, (RSIBOX.top + RSIBOX.bottom) / 2, 16.5, { rotate: true })
label('日期', 907, 1497, 24)

drawLegend({ x: 103, y: 1235, w: 175, h: 95, first: 1252, step: 30.5 }, [
  { name: 'RSI(14)', color: '#2E86AB', width: 3 },
  { name: '超买线(70)', color: '#A23B72', width: 3.1, dash: '11.5,5', opacity: 0.8 },
  { name: '超卖线(30)', color: '#2A9D55', width: 3.1, dash: '11.5,5', opacity: 0.85 }
], 19)
</script>
</body>
</html>
